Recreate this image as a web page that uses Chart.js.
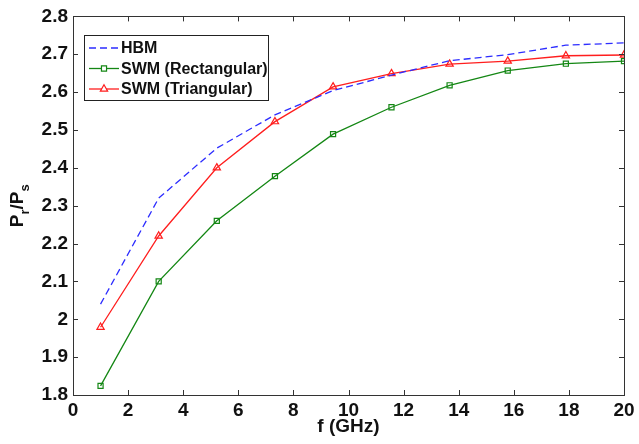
<!DOCTYPE html>
<html>
<head>
<meta charset="utf-8">
<script src="https://cdn.jsdelivr.net/npm/chart.js@4/dist/chart.umd.min.js"></script>
<style>
    html, body { margin: 0; padding: 0; background: #fff; }
    canvas { display: block; }
</style>
</head>
<body>
<canvas id="ratioChart" width="639" height="444"></canvas>
<script>
// values
const freqGHz = [1, 3.11, 5.22, 7.33, 9.44, 11.56, 13.67, 15.78, 17.89, 20];
const hbmRatio = [2.04, 2.32, 2.452, 2.54, 2.604, 2.645, 2.683, 2.699, 2.724, 2.73];
const swmRectRatio = [1.824, 2.10, 2.26, 2.378, 2.489, 2.56, 2.618, 2.657, 2.675, 2.682];
const swmTriRatio = [1.979, 2.22, 2.40, 2.522, 2.614, 2.649, 2.674, 2.682, 2.696, 2.698];
const xTicks = [0, 2, 4, 6, 8, 10, 12, 14, 16, 18, 20];
const yTicks = [1.8, 1.9, 2, 2.1, 2.2, 2.3, 2.4, 2.5, 2.6, 2.7, 2.8];
const seriesNames = ['HBM', 'SWM (Rectangular)', 'SWM (Triangular)'];

const FONT = "'Liberation Sans', Arial, sans-serif";
const BLUE = 'rgb(45, 45, 255)';
const GREEN = 'rgb(20, 135, 20)';
const RED = 'rgb(255, 30, 30)';

function toPoints(ys) {
    return freqGHz.map((f, i) => ({ x: f, y: ys[i] }));
}

// box, inward ticks and y label (MATLAB look)
const axesBox = {
    id: 'axesBox',
    afterDraw(chart) {
        const ctx = chart.ctx;
        const a = chart.chartArea;
        const xs = chart.scales.x, ys = chart.scales.y;
        ctx.save();
        ctx.strokeStyle = '#333';
        ctx.lineWidth = 1;
        ctx.beginPath();
        xTicks.forEach(v => {
            const px = Math.round(xs.getPixelForValue(v)) + 0.5;
            ctx.moveTo(px, a.bottom); ctx.lineTo(px, a.bottom - 5);
            ctx.moveTo(px, a.top); ctx.lineTo(px, a.top + 5);
        });
        yTicks.forEach(v => {
            const py = Math.round(ys.getPixelForValue(v)) + 0.5;
            ctx.moveTo(a.left, py); ctx.lineTo(a.left + 5, py);
            ctx.moveTo(a.right, py); ctx.lineTo(a.right - 5, py);
        });
        ctx.stroke();
        ctx.strokeRect(Math.round(a.left) + 0.5, Math.round(a.top) + 0.5,
            Math.round(a.right - a.left), Math.round(a.bottom - a.top));

        // y axis title: P_r / P_s
        ctx.translate(16, (a.top + a.bottom) / 2);
        ctx.rotate(-Math.PI / 2);
        ctx.fillStyle = '#111';
        ctx.textBaseline = 'alphabetic';
        const big = 'bold 19px ' + FONT, small = 'bold 13px ' + FONT;
        const parts = [['P', big, 0], ['r', small, 6], ['/', big, 0], ['P', big, 0], ['s', small, 6]];
        let w = 0;
        parts.forEach(p => { ctx.font = p[1]; w += ctx.measureText(p[0]).width; });
        let cx = -w / 2;
        parts.forEach(p => {
            ctx.font = p[1];
            ctx.fillText(p[0], cx, 7 + p[2]);
            cx += ctx.measureText(p[0]).width;
        });
        ctx.restore();
    }
};

// legend box in the upper left corner
const boxLegend = {
    id: 'boxLegend',
    afterDraw(chart) {
        const ctx = chart.ctx;
        const left = 84, top = 35, width = 184, height = 65;
        ctx.save();
        ctx.fillStyle = '#fff';
        ctx.fillRect(left, top, width, height);
        ctx.strokeStyle = '#222';
        ctx.lineWidth = 1;
        ctx.strokeRect(left + 0.5, top + 0.5, width, height);
        chart.data.datasets.forEach((ds, i) => {
            const y = 48 + i * 20.5;
            ctx.strokeStyle = ds.borderColor;
            ctx.lineWidth = ds.borderWidth;
            ctx.setLineDash(ds.borderDash || []);
            ctx.beginPath();
            ctx.moveTo(89, y); ctx.lineTo(119, y);
            ctx.stroke();
            ctx.setLineDash([]);
            if (ds.pointRadius > 0) {
                ctx.fillStyle = '#fff';
                ctx.lineWidth = ds.pointBorderWidth;
                Chart.helpers.drawPoint(ctx, {
                    pointStyle: ds.pointStyle, radius: ds.pointRadius,
                    borderWidth: ds.pointBorderWidth, rotation: 0
                }, 104, y);
            }
            ctx.fillStyle = '#111';
            ctx.font = 'bold 16px ' + FONT;
            ctx.textBaseline = 'middle';
            ctx.fillText(ds.label, 121, y + 1);
        });
        ctx.restore();
    }
};

const ctx = document.getElementById('ratioChart').getContext('2d');
new Chart(ctx, {
    type: 'line',
    data: {
        datasets: [{
            label: seriesNames[0],
            data: toPoints(hbmRatio),
            borderColor: BLUE,
            borderWidth: 1.3,
            borderDash: [7, 4],
            pointRadius: 0,
            tension: 0
        }, {
            label: seriesNames[1],
            data: toPoints(swmRectRatio),
            borderColor: GREEN,
            borderWidth: 1.3,
            pointStyle: 'rect',
            pointRadius: 3.6,
            pointBorderWidth: 1.2,
            pointBorderColor: GREEN,
            pointBackgroundColor: 'rgba(0,0,0,0)',
            tension: 0
        }, {
            label: seriesNames[2],
            data: toPoints(swmTriRatio),
            borderColor: RED,
            borderWidth: 1.3,
            pointStyle: 'triangle',
            pointRadius: 4.2,
            pointBorderWidth: 1.2,
            pointBorderColor: RED,
            pointBackgroundColor: 'rgba(0,0,0,0)',
            tension: 0
        }]
    },
    options: {
        responsive: false,
        animation: false,
        layout: { padding: { left: 0, top: 15, right: 15, bottom: 0 } },
        plugins: {
            legend: { display: false },
            tooltip: { enabled: false }
        },
        scales: {
            x: {
                type: 'linear',
                min: 0,
                max: 20,
                afterBuildTicks: s => { s.ticks = xTicks.map(v => ({ value: v })); },
                afterFit: s => { s.height = 49; },
                grid: { display: false, drawTicks: false, tickLength: 0 },
                border: { display: false },
                title: {
                    display: true,
                    text: 'f (GHz)',
                    color: '#111',
                    font: { family: FONT, size: 19, weight: 'bold' },
                    padding: { top: 0, bottom: 6 }
                },
                ticks: {
                    autoSkip: false,
                    maxRotation: 0,
                    padding: 4,
                    color: '#111',
                    font: { family: FONT, size: 19, weight: 'bold' },
                    callback: v => String(v)
                }
            },
            y: {
                min: 1.8,
                max: 2.8,
                afterBuildTicks: s => { s.ticks = yTicks.map(v => ({ value: v })); },
                afterFit: s => { s.width = 73; },
                grid: { display: false, drawTicks: false, tickLength: 0 },
                border: { display: false },
                ticks: {
                    autoSkip: false,
                    padding: 5,
                    color: '#111',
                    font: { family: FONT, size: 19, weight: 'bold' },
                    callback: v => String(Math.round(v * 10) / 10)
                }
            }
        }
    },
    plugins: [axesBox, boxLegend]
});
</script>
</body>
</html>
